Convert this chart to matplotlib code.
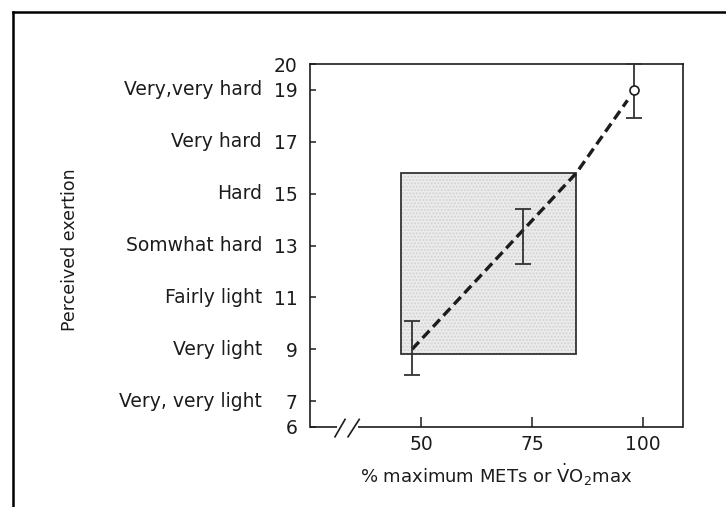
import matplotlib
matplotlib.use('Agg')
import matplotlib.pyplot as plt
import matplotlib.patches as mpatches
import matplotlib.transforms as mtransforms
from matplotlib.lines import Line2D

# ── Data ──────────────────────────────────────────────────────────────────────
pct_max = [48, 73, 98]                 # % maximum METs or VO2max
rpe_mean = [9.1, 13.35, 19.0]
rpe_low = [8.0, 12.3, 17.9]
rpe_high = [10.1, 14.4, 20.0]

trend_x = [48, 85, 96.5]
trend_y = [9.0, 15.8, 18.6]

zone_x = (45.5, 85.0)                  # shaded training zone
zone_y = (8.8, 15.8)

rpe_ticks = [6, 7, 9, 11, 13, 15, 17, 19, 20]
rpe_words = {7: 'Very, very light', 9: 'Very light', 11: 'Fairly light',
             13: 'Somwhat hard', 15: 'Hard', 17: 'Very hard',
             19: 'Very,very hard'}
pct_ticks = [50, 75, 100]

# ── Figure ────────────────────────────────────────────────────────────────────
INK = '#1c1c1c'
W, H = 726, 507
fig = plt.figure(figsize=(W / 100, H / 100), dpi=100, facecolor='white')

# axes box in pixels: left 310, right 683, top 64, bottom 427
ax = fig.add_axes([310 / W, 1 - 427 / H, (683 - 310) / W, (427 - 64) / H])
ax.set_xlim(25, 109)
ax.set_ylim(6, 20)

for side in ('left', 'top', 'right'):
    ax.spines[side].set_color(INK)
    ax.spines[side].set_linewidth(1.2)
ax.spines['bottom'].set_visible(False)

# bottom axis with a break
brk0, brk1 = 31.0, 35.8
ax.plot([25, brk0], [6, 6], color=INK, lw=1.2, clip_on=False, solid_capstyle='butt')
ax.plot([brk1, 109], [6, 6], color=INK, lw=1.2, clip_on=False, solid_capstyle='butt')
for x0, x1 in [(0.067, 0.094), (0.102, 0.132)]:
    ax.add_line(Line2D([x0, x1], [-0.027, 0.021], transform=ax.transAxes,
                       color=INK, lw=1.2, clip_on=False))

# ── Shaded zone ───────────────────────────────────────────────────────────────
ax.add_patch(mpatches.Rectangle((zone_x[0], zone_y[0]), zone_x[1] - zone_x[0],
                                zone_y[1] - zone_y[0], facecolor='#ececec',
                                edgecolor='#d2d2d2', hatch='.....', lw=0,
                                zorder=1))
ax.add_patch(mpatches.Rectangle((zone_x[0], zone_y[0]), zone_x[1] - zone_x[0],
                                zone_y[1] - zone_y[0], facecolor='none',
                                edgecolor='#333333', lw=1.3, zorder=2))

# ── Trend + error bars ────────────────────────────────────────────────────────
ax.plot(trend_x, trend_y, color=INK, lw=2.4, dashes=(3.0, 1.6), zorder=3)

yerr = [[m - lo for m, lo in zip(rpe_mean, rpe_low)],
        [hi - m for m, hi in zip(rpe_mean, rpe_high)]]
ax.errorbar(pct_max, rpe_mean, yerr=yerr, fmt='none', ecolor='#333333',
            elinewidth=1.3, capsize=6, capthick=1.3, zorder=4, clip_on=False)
ax.plot(pct_max[-1:], rpe_mean[-1:], 'o', ms=6.5, mfc='white', mec=INK,
        mew=1.2, zorder=5, clip_on=False)

# ── Ticks and labels ──────────────────────────────────────────────────────────
ax.set_yticks(rpe_ticks)
ax.set_yticklabels([str(v) for v in rpe_ticks])
ax.set_xticks(pct_ticks)
ax.set_xticklabels([str(v) for v in pct_ticks])
ax.tick_params(axis='y', direction='in', length=4, width=1.1, color=INK,
               pad=9, labelsize=13.5, labelcolor=INK)
ax.tick_params(axis='x', direction='in', length=7, width=1.1, color=INK,
               pad=6, labelsize=13.5, labelcolor=INK)

tr = mtransforms.blended_transform_factory(fig.transFigure, ax.transData)
for v, word in rpe_words.items():
    ax.text(262 / W, v, word, transform=tr, ha='right', va='center',
            fontsize=13.5, color=INK)

ax.set_xlabel(r'% maximum METs or $\dot{\mathrm{V}}\mathrm{O}_2$max',
              fontsize=13, color=INK, labelpad=5)
fig.text(70 / W, 1 - 250 / H, 'Perceived exertion', rotation=90,
         ha='center', va='center', fontsize=12.5, color=INK)

# ── Outer frame (top and left only visible) ───────────────────────────────────
fig.add_artist(Line2D([13 / W, 13 / W], [0, 1 - 12 / H], transform=fig.transFigure,
                      color='black', lw=1.8))
fig.add_artist(Line2D([13 / W, 1], [1 - 12 / H, 1 - 12 / H], transform=fig.transFigure,
                      color='black', lw=1.8))

fig.savefig('out.png', dpi=100, facecolor='white')
